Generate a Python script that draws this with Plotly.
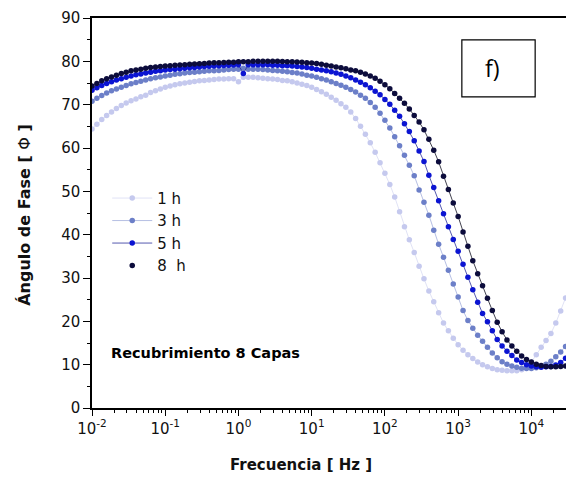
import numpy as np
import plotly.graph_objects as go

# Frequency grid: 15 points per decade from 1e-2 Hz
log_f = [-2 + i / 15 for i in range(98)]
freq = [10 ** v for v in log_f]

phase_1h = [
    64.4, 65.5, 66.6, 67.5, 68.3, 69.1, 69.8, 70.4, 70.9, 71.3,
    71.8, 72.2, 72.8, 73.2, 73.6, 74.0, 74.3, 74.6, 74.8, 75.0,
    75.2, 75.35, 75.5, 75.6, 75.7, 75.8, 75.9, 75.95, 76.0, 76.0,
    75.3, 76.3, 76.3, 76.3, 76.2, 76.1, 76.0, 75.9, 75.8, 75.6,
    75.5, 75.3, 75.0, 74.7, 74.4, 74.0, 73.5, 73.0, 72.4, 71.7,
    71.0, 70.2, 69.4, 68.3, 66.8, 65.0, 63.2, 61.2, 59.0, 56.6,
    54.2, 51.6, 48.7, 45.3, 41.8, 38.8, 35.9, 32.7, 29.8, 27.0,
    24.5, 22.0, 19.6, 17.8, 16.1, 14.6, 13.3, 12.3, 11.4, 10.6,
    10.0, 9.5, 9.1, 8.8, 8.7, 8.6, 8.6, 8.6, 8.8, 9.4,
    10.6, 12.3, 14.0, 15.6, 17.2, 19.6, 22.4, 25.4,
]
phase_3h = [
    70.8, 71.5, 72.1, 72.7, 73.2, 73.6, 74.0, 74.4, 74.8, 75.1,
    75.4, 75.7, 76.0, 76.2, 76.4, 76.6, 76.8, 77.0, 77.15, 77.3,
    77.4, 77.5, 77.6, 77.7, 77.8, 77.85, 77.9, 78.0, 78.1, 78.15,
    78.2, 78.4, 78.2, 78.2, 78.2, 78.1, 78.0, 77.9, 77.8, 77.7,
    77.6, 77.4, 77.3, 77.1, 76.8, 76.6, 76.3, 76.0, 75.7, 75.3,
    74.9, 74.5, 74.0, 73.5, 72.9, 72.2, 71.5, 70.5, 69.4, 68.0,
    66.4, 64.6, 62.6, 60.5, 58.3, 56.0, 53.6, 50.3, 47.5, 44.5,
    41.0, 37.8, 34.8, 31.8, 28.6, 25.6, 22.5, 20.2, 18.4, 16.8,
    15.4, 14.0, 12.7, 11.6, 10.7, 10.1, 9.7, 9.4, 9.2, 9.1,
    9.1, 9.3, 9.6, 10.1, 10.8, 11.8, 12.9, 14.2,
]
phase_5h = [
    73.3, 73.9, 74.4, 74.9, 75.3, 75.7, 76.0, 76.3, 76.6, 76.9,
    77.1, 77.3, 77.5, 77.7, 77.85, 78.0, 78.1, 78.2, 78.3, 78.4,
    78.5, 78.6, 78.7, 78.8, 78.85, 78.9, 79.0, 79.05, 79.1, 79.15,
    79.2, 77.2, 79.2, 79.2, 79.2, 79.2, 79.2, 79.1, 79.1, 79.0,
    79.0, 78.9, 78.8, 78.7, 78.6, 78.4, 78.2, 78.0, 77.8, 77.6,
    77.3, 77.0, 76.6, 76.2, 75.7, 75.2, 74.6, 73.9, 73.1, 72.3,
    71.2, 70.1, 68.7, 67.3, 65.6, 63.8, 61.7, 59.3, 56.9, 53.7,
    50.9, 47.8, 44.8, 41.8, 38.9, 36.2, 33.2, 30.2, 27.3, 24.4,
    21.8, 19.9, 17.8, 15.8, 14.3, 13.1, 12.1, 11.1, 10.5, 10.0,
    9.7, 9.5, 9.4, 9.5, 9.6, 9.9, 10.5, 11.5,
]
phase_8h = [
    74.3, 74.9, 75.5, 76.0, 76.4, 76.8, 77.2, 77.5, 77.8, 78.0,
    78.2, 78.4, 78.55, 78.7, 78.8, 78.9, 79.0, 79.1, 79.15, 79.2,
    79.3, 79.4, 79.45, 79.5, 79.6, 79.65, 79.7, 79.75, 79.8, 79.8,
    79.9, 79.9, 79.9, 80.0, 80.0, 80.0, 80.0, 80.0, 80.0, 79.95,
    79.9, 79.9, 79.85, 79.8, 79.7, 79.6, 79.5, 79.3, 79.1, 78.9,
    78.7, 78.5, 78.3, 78.0, 77.8, 77.5, 77.1, 76.6, 76.1, 75.4,
    74.6, 73.7, 72.6, 71.5, 70.3, 69.0, 67.5, 66.0, 64.2, 62.0,
    59.5, 56.8, 53.5, 50.4, 47.3, 44.2, 40.6, 37.3, 34.0, 31.0,
    28.2, 25.3, 22.5, 19.8, 17.6, 15.7, 14.3, 13.1, 12.0, 11.2,
    10.6, 10.1, 9.8, 9.6, 9.5, 9.5, 9.6, 9.7,
]

series_names = ["1 h", "3 h", "5 h", "8  h"]
series_values = [phase_1h, phase_3h, phase_5h, phase_8h]
series_colors = ["#c5c9ee", "#6c7fc8", "#0b14d2", "#0c0c3c"]
line_colors = ["#d8dbf3", "#a3aedc", "#2a2f9a", "#111122"]

x_tickvals = [1e-2, 1e-1, 1e0, 1e1, 1e2, 1e3, 1e4]
x_ticktext = ["10<sup>-2</sup>", "10<sup>-1</sup>", "10<sup>0</sup>", "10<sup>1</sup>",
              "10<sup>2</sup>", "10<sup>3</sup>", "10<sup>4</sup>"]
y_tickvals = [0, 10, 20, 30, 40, 50, 60, 70, 80, 90]

fig = go.Figure()
for k, (name, vals, mc, lc) in enumerate(zip(series_names, series_values, series_colors, line_colors)):
    if k < 3:
        fig.add_trace(go.Scatter(
            x=freq, y=vals, name=name, mode="lines+markers",
            marker=dict(color=mc, size=5.5),
            line=dict(color=lc, width=0.8),
        ))
    else:
        fig.add_trace(go.Scatter(
            x=freq, y=vals, name=name, mode="lines", showlegend=False,
            line=dict(color=lc, width=0.8),
        ))
        fig.add_trace(go.Scatter(
            x=freq, y=vals, name=name, mode="markers",
            marker=dict(color=mc, size=5.5),
        ))

font_ticks = dict(family="DejaVu Sans", size=15, color="#111")
fig.update_layout(
    width=566, height=466,
    margin=dict(l=84, r=6, t=10, b=66),
    paper_bgcolor="white", plot_bgcolor="white",
    showlegend=True,
    legend=dict(x=0.032, y=0.58, xanchor="left", yanchor="top",
                bgcolor="rgba(0,0,0,0)", font=dict(family="DejaVu Sans", size=15, color="#111"),
                itemwidth=40, tracegroupgap=0),
    xaxis=dict(type="log", range=[-2, 4.5], tickvals=x_tickvals, ticktext=x_ticktext,
               ticks="outside", ticklen=6, tickwidth=1.2, tickcolor="black",
               minor=dict(ticks="outside", ticklen=3, tickcolor="black", dtick="D1"),
               showline=True, linecolor="black", linewidth=1.5, mirror=True,
               showgrid=False, zeroline=False, tickfont=font_ticks, automargin=False),
    yaxis=dict(range=[0, 90], tickvals=y_tickvals,
               ticks="outside", ticklen=7, tickwidth=1.2, tickcolor="black",
               minor=dict(ticks="outside", ticklen=3, tickcolor="black", dtick=5),
               showline=True, linecolor="black", linewidth=1.5, mirror=True,
               showgrid=False, zeroline=False, tickfont=font_ticks, automargin=False),
)

# axis titles
fig.add_annotation(text="<b>Frecuencia [ Hz ]</b>", xref="paper", yref="paper", x=0.439, y=-0.145,
                   xanchor="center", yanchor="middle", showarrow=False,
                   font=dict(family="DejaVu Sans", size=15, color="#111"))
fig.add_annotation(text="<b>Ángulo de Fase [ </b>Φ<b> ]</b>", xref="paper", yref="paper", x=-0.141, y=0.495,
                   xanchor="center", yanchor="middle", showarrow=False, textangle=-90,
                   font=dict(family="DejaVu Sans", size=16, color="#111"))

fig.add_shape(type="rect", xref="paper", yref="paper", x0=0.777, x1=0.931, y0=0.798, y1=0.944,
              line=dict(color="black", width=1.2), fillcolor="white")
fig.add_annotation(text="f)", xref="paper", yref="paper", x=0.842, y=0.871, showarrow=False,
                   xanchor="center", yanchor="middle",
                   font=dict(family="Open Sans", size=23, color="black"))
fig.add_annotation(text="<b>Recubrimiento 8 Capas</b>", xref="paper", yref="paper", x=0.036, y=0.141,
                   xanchor="left", yanchor="middle", showarrow=False,
                   font=dict(family="DejaVu Sans", size=14.5, color="black"))

fig.write_html("out.html")
